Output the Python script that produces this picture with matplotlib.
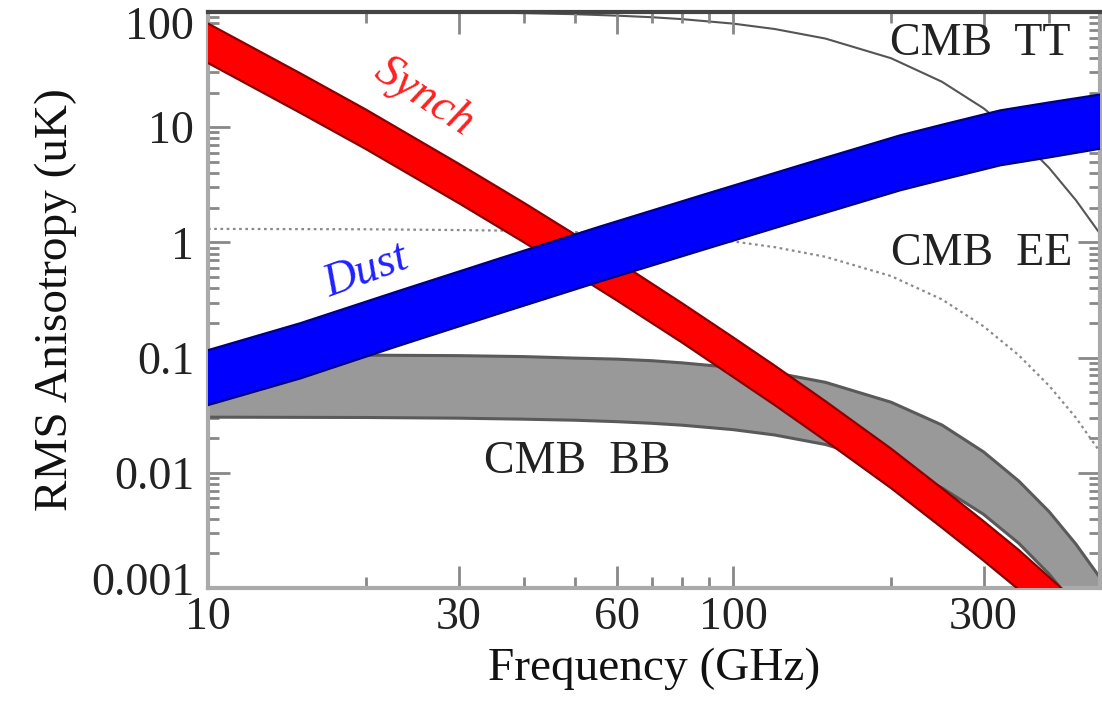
import numpy as np
import matplotlib
matplotlib.use("Agg")
import matplotlib.pyplot as plt
from matplotlib.transforms import ScaledTranslation

plt.rcParams['font.family'] = ['Liberation Serif', 'DejaVu Serif']

# ---------------- data ----------------
# CMB curves (GHz -> uK)
cmb_freq = [10, 20, 30, 40, 50, 60, 70, 80, 100, 120, 150, 200, 250, 300, 350, 400, 450, 500]
cmb_tt = [101.7, 101.0, 99.7, 97.8, 95.7, 93.0, 90.1, 86.7, 79.3, 71.2, 58.8, 39.7, 24.8, 14.6, 8.19, 4.43, 2.32, 1.19]
cmb_ee = [1.31, 1.30, 1.28, 1.26, 1.23, 1.19, 1.16, 1.11, 1.02, 0.91, 0.75, 0.51, 0.32, 0.187, 0.105, 0.057, 0.030, 0.0152]
cmb_bb_high = [0.106, 0.105, 0.104, 0.102, 0.099, 0.097, 0.094, 0.090, 0.082, 0.074, 0.061, 0.041, 0.026, 0.0152, 0.0085, 0.0046, 0.0024, 0.00123]
cmb_bb_low = [0.0304, 0.0302, 0.0298, 0.0292, 0.0286, 0.0278, 0.0269, 0.0259, 0.0237, 0.0213, 0.0176, 0.0119, 0.0074, 0.00436, 0.00245, 0.00132, 0.00069, 0.00035]

# Synchrotron band
synch_freq = [10, 15, 20, 30, 40, 50, 60, 70, 80, 100, 120, 150, 200, 250, 300, 350, 400, 450]
synch_high = [79.4, 29.3, 14.2, 4.83, 2.20, 1.17, 0.694, 0.44, 0.296, 0.150, 0.0853, 0.0418,
              0.0162, 0.00734, 0.0038, 0.00214, 0.00124, 0.00077]
synch_low = [36.1, 13.3, 6.45, 2.2, 1.0, 0.53, 0.315, 0.20, 0.135, 0.068, 0.0388, 0.019,
             0.00736, 0.00334, 0.00173, 0.00097, 0.00056, 0.00035]

# Dust band
dust_freq = [10, 15, 23, 36, 56, 87, 134, 208, 250, 323, 400, 500]
dust_high = [0.116, 0.199, 0.377, 0.728, 1.38, 2.56, 4.66, 8.49, 10.5, 14.0, 16.4, 19.2]
dust_low = [0.0387, 0.066, 0.126, 0.243, 0.46, 0.853, 1.55, 2.83, 3.5, 4.67, 5.47, 6.5]

x_ticks = [10, 30, 60, 100, 300]
y_ticks = [0.001, 0.01, 0.1, 1, 10, 100]
y_tick_labels = ['0.001', '0.01', '0.1', '1', '10', '100']

# ---------------- figure ----------------
W, H = 1102, 706
fig = plt.figure(figsize=(W / 100, H / 100), dpi=100)
ax = fig.add_axes([208 / W, (H - 588) / H, (1100 - 208) / W, (588 - 12) / H])
ax.set_xscale('log')
ax.set_yscale('log')
ax.set_xlim(10, 500)
ax.set_ylim(0.001, 100)

# CMB TT and EE lines
ax.plot(cmb_freq, cmb_tt, color='#555555', lw=1.5, zorder=1)
ax.plot(cmb_freq, cmb_ee, color='#8a8a8a', lw=1.6, ls=(0, (1.2, 1.6)), zorder=1)


def band(xs, hi, lo, face, edge, z, lw):
    px = list(xs) + list(xs)[::-1]
    py = list(hi) + list(lo)[::-1]
    ax.fill(px, py, facecolor=face, edgecolor='none', zorder=z)
    ax.plot(xs, hi, color=edge, lw=lw, zorder=z + 0.1)
    ax.plot(xs, lo, color=edge, lw=lw, zorder=z + 0.1)


band(cmb_freq, cmb_bb_high, cmb_bb_low, '#999999', '#5a5a5a', 2, 2.2)
band(synch_freq, synch_high, synch_low, '#ff0000', '#8a0000', 3, 1.6)
band(dust_freq, dust_high, dust_low, '#0000ff', '#000080', 4, 1.6)


def label(px, py, s, **kw):
    ax.text(px / W, 1 - py / H, s, transform=fig.transFigure, ha='center', va='center', **kw)


tk = dict(fontsize=33, color='#222222')
label(980, 44, 'CMB  TT', **tk)
label(982, 254, 'CMB  EE', **tk)
label(577, 462, 'CMB  BB', **tk)
label(424, 97, 'Synch', fontsize=33, color='#ff2020', style='italic', rotation=-33)
label(366, 272, 'Dust', fontsize=33, color='#2020ff', style='italic', rotation=20)

# axes styling
for s in ax.spines.values():
    s.set_color('#aaaaaa')
    s.set_linewidth(3)
ax.spines['top'].set_color('#444444')
ax.set_xticks(x_ticks)
ax.set_xticklabels([str(v) for v in x_ticks])
ax.set_yticks(y_ticks)
ax.set_yticklabels(y_tick_labels)
ax.tick_params(which='major', direction='in', length=16, width=2, color='#888888',
               top=True, right=True, labelsize=33, labelcolor='#222222')
ax.tick_params(axis='x', which='major', pad=6)
ax.tick_params(axis='y', which='major', pad=10)
ax.tick_params(which='minor', direction='in', length=8, width=2, color='#888888',
               top=True, right=True)
ax.xaxis.set_minor_formatter(matplotlib.ticker.NullFormatter())
ax.set_xlabel('Frequency (GHz)', fontsize=34, color='#111111', labelpad=6)
ax.set_ylabel('RMS Anisotropy (uK)', fontsize=34, color='#111111', labelpad=10)

# nudge the end labels of the y axis inward, as in the original
ticks = ax.yaxis.get_major_ticks()
top_lab = ticks[-1].label1
top_lab.set_transform(top_lab.get_transform() + ScaledTranslation(0, -8 / 72, fig.dpi_scale_trans))
bot_lab = ticks[0].label1
bot_lab.set_transform(bot_lab.get_transform() + ScaledTranslation(0, 7 / 72, fig.dpi_scale_trans))

fig.savefig('out.png', dpi=100)
